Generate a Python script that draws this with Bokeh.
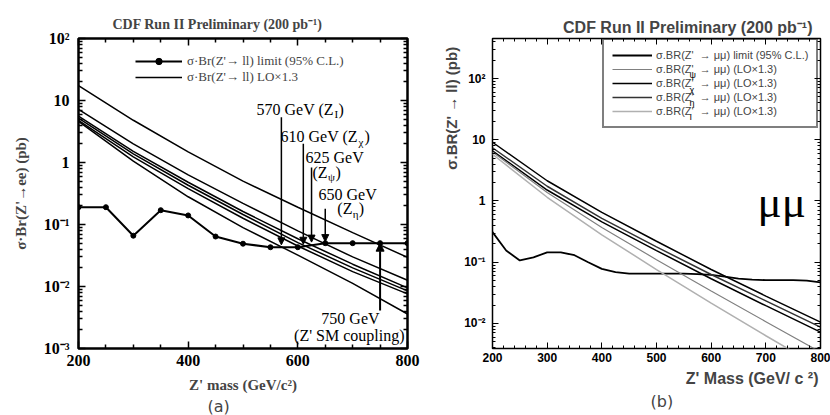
import math
from bokeh.plotting import figure
from bokeh.models import (Range1d, LogAxis, LinearAxis, FixedTicker, Label, Legend, LegendItem,
                          Arrow, NormalHead, ColumnDataSource, Title)
from bokeh.layouts import row
from bokeh.embed import file_html
from bokeh.resources import INLINE

SERIF = "Liberation Serif"
SANS = "Liberation Sans"

# ---------------- data: panel (a) ----------------
mass_a = [200, 300, 400, 500, 600, 700, 800]
sm_a = [17.4, 4.8, 1.48, 0.50, 0.19, 0.074, 0.0295]
zeta_a = [7.2, 2.0, 0.63, 0.219, 0.079, 0.030, 0.0126]
zpsi_a = [5.6, 1.51, 0.48, 0.162, 0.059, 0.0229, 0.0095]
zchi_a = [5.2, 1.38, 0.43, 0.145, 0.051, 0.020, 0.0085]
zsec_a = [4.8, 1.23, 0.38, 0.126, 0.045, 0.0174, 0.0076]
zi_a = [4.6, 1.05, 0.28, 0.089, 0.032, 0.0112, 0.0036]
limit_mass_a = [200, 250, 300, 350, 400, 450, 500, 550, 600, 650, 700, 750, 800]
limit_a = [0.19, 0.19, 0.066, 0.17, 0.14, 0.064, 0.049, 0.043, 0.043, 0.050, 0.050, 0.050, 0.050]
arrow_mass_a = [570, 610, 625, 650]
arrow_from_a = [5.35, 2.0, 0.83, 0.18]
arrow_to_a = [0.047, 0.048, 0.052, 0.053]
sm_arrow_mass = [750]
sm_arrow_from = [0.0041]
sm_arrow_to = [0.05]
x_ticks_a = [200, 400, 600, 800]
y_ticks_a = [1e-3, 1e-2, 1e-1, 1, 10, 100]
y_labels_a = ["10\u207b\u00b3", "10\u207b\u00b2", "10\u207b\u00b9", "1", "10", "10\u00b2"]

# ---------------- data: panel (b) ----------------
mass_b = [200, 300, 400, 500, 600, 700, 800]
zchi_b = [9.1, 2.14, 0.65, 0.22, 0.076, 0.028, 0.0105]
zeta_b = [7.4, 1.74, 0.52, 0.178, 0.063, 0.0234, 0.0087]
zsec_b = [6.6, 1.51, 0.457, 0.155, 0.0537, 0.0195, 0.0072]
zpsi_b = [6.3, 1.38, 0.37, 0.110, 0.034, 0.0107, 0.0034]
zi_b = [5.8, 1.15, 0.28, 0.076, 0.0214, 0.0063, 0.0019]
limit_mass_b = [200, 225, 250, 275, 300, 325, 350, 375, 400, 425, 450, 475, 500, 525,
                550, 575, 600, 625, 650, 675, 700, 725, 750, 775, 800]
limit_b = [0.31, 0.155, 0.107, 0.12, 0.145, 0.145, 0.13, 0.10, 0.078, 0.069, 0.065, 0.065,
           0.065, 0.065, 0.065, 0.064, 0.062, 0.058, 0.054, 0.052, 0.051, 0.051, 0.051, 0.050, 0.047]
x_ticks_b = [200, 300, 400, 500, 600, 700, 800]
y_ticks_b = [1e-2, 1e-1, 1, 10, 100]
y_labels_b = ["10\u207b\u00b2", "10\u207b\u00b9", "1", "10", "10\u00b2"]
legend_subs_b = ["\u03c8", "\u03c7", "\u03b7", "I"]


def label(p, x, y, text, size, font=SERIF, style="normal", align="left",
          baseline="middle", angle=0.0, xo=0, yo=0, color="black"):
    p.add_layout(Label(x=x, y=y, text=text, text_font=font, text_font_size=f"{size}px",
                       text_font_style=style, text_align=align, text_baseline=baseline,
                       angle=angle, x_offset=xo, y_offset=yo, text_color=color))


def style_axes(p, xt, xminor, yt, yminor, ylabels, font, fsize, maj, mnr, lw, xstand, ystand):
    xa = p.below[0]
    ya = p.left[0]
    xa.ticker = FixedTicker(ticks=xt, minor_ticks=xminor)
    ya.ticker = FixedTicker(ticks=yt, minor_ticks=yminor)
    ya.major_label_overrides = {t: l for t, l in zip(yt, ylabels)}
    for ax, st in ((xa, xstand), (ya, ystand)):
        ax.major_label_text_font = font
        ax.major_label_text_font_style = "bold"
        ax.major_label_text_font_size = f"{fsize}px"
        ax.major_label_text_color = "black"
        ax.major_tick_in = maj
        ax.major_tick_out = 0
        ax.minor_tick_in = mnr
        ax.minor_tick_out = 0
        ax.major_tick_line_width = lw
        ax.minor_tick_line_width = lw
        ax.major_tick_line_color = "black"
        ax.minor_tick_line_color = "black"
        ax.axis_line_color = None
        ax.major_label_standoff = st
    top = LinearAxis(ticker=FixedTicker(ticks=xt, minor_ticks=xminor))
    right = LogAxis(ticker=FixedTicker(ticks=yt, minor_ticks=yminor))
    for ax in (top, right):
        ax.major_label_text_font_size = "1px"
        ax.major_label_text_alpha = 0
        ax.major_label_standoff = 0
        ax.major_tick_in = maj
        ax.major_tick_out = 0
        ax.minor_tick_in = mnr
        ax.minor_tick_out = 0
        ax.major_tick_line_width = lw
        ax.minor_tick_line_width = lw
        ax.axis_line_color = None
    p.add_layout(top, "above")
    p.add_layout(right, "right")
    return xa, ya


# ======================= panel (a) =======================
pa = figure(width=428, height=415, x_range=Range1d(200, 800), y_range=Range1d(1e-3, 1e2),
            y_axis_type="log", output_backend="svg", toolbar_location=None,
            min_border_left=78, min_border_right=21, min_border_top=38, min_border_bottom=67)
pa.grid.visible = False
pa.outline_line_color = "black"
pa.outline_line_width = 2.5

yminor_a = [k * 10.0 ** e for e in range(-3, 2) for k in (2, 3, 4, 5, 6, 7, 8, 9)]
xminor_a = [250, 300, 350, 450, 500, 550, 650, 700, 750]
xa_a, ya_a = style_axes(pa, x_ticks_a, xminor_a, y_ticks_a, yminor_a, y_labels_a,
                        SERIF, 16, 7, 4, 1.5, 6, 9)

pa.add_layout(Title(text="CDF Run II Preliminary (200 pb\u207b\u00b9)", text_font=SERIF,
                    text_font_size="14px", text_font_style="bold", align="left",
                    offset=34, standoff=13), "above")
ya_a.axis_label = "\u03c3\u00b7Br(Z'\u2192ee) (pb)"
xa_a.axis_label = "Z' mass (GeV/c\u00b2)"
for ax, st in ((ya_a, 12), (xa_a, 8)):
    ax.axis_label_text_font = SERIF
    ax.axis_label_text_font_size = "15px"
    ax.axis_label_text_font_style = "bold"
    ax.axis_label_standoff = st
pa.add_layout(Title(text="(a)", text_font="DejaVu Sans", text_font_size="16px",
                    text_font_style="normal", align="left", offset=129, standoff=-2), "below")

theory_a = []
for s in (sm_a, zeta_a, zpsi_a, zchi_a, zsec_a, zi_a):
    theory_a.append(pa.line(mass_a, s, line_color="black", line_width=1.5))
r_lim_a = pa.line(limit_mass_a, limit_a, line_color="black", line_width=2)
r_limpt_a = pa.scatter(limit_mass_a, limit_a, size=5, color="black")

src_arr = ColumnDataSource(dict(x0=arrow_mass_a, y0=arrow_from_a, x1=arrow_mass_a, y1=arrow_to_a))
pa.add_layout(Arrow(source=src_arr, x_start="x0", y_start="y0", x_end="x1", y_end="y1",
                    line_width=1.5, line_color="black",
                    end=NormalHead(size=7, fill_color="black", line_color="black")))
src_sm = ColumnDataSource(dict(x0=sm_arrow_mass, y0=sm_arrow_from, x1=sm_arrow_mass, y1=sm_arrow_to))
pa.add_layout(Arrow(source=src_sm, x_start="x0", y_start="y0", x_end="x1", y_end="y1",
                    line_width=2, line_color="black",
                    end=NormalHead(size=8, fill_color="black", line_color="black")))

leg_a = Legend(items=[LegendItem(label="\u03c3\u00b7Br(Z'\u2192 ll) limit (95% C.L.)",
                                 renderers=[r_lim_a, r_limpt_a]),
                      LegendItem(label="\u03c3\u00b7Br(Z'\u2192 ll) LO\u00d71.3",
                                 renderers=[theory_a[0]])],
               location=(57, 263), padding=0, margin=0, spacing=0,
               glyph_width=47, glyph_height=16, label_height=16, label_standoff=5,
               label_text_font=SERIF, label_text_font_size="13px",
               border_line_alpha=0, background_fill_alpha=0)
pa.add_layout(leg_a)

# annotations (a)
label(pa, 524.6, 7.16, "570 GeV (Z", 16)
label(pa, 524.6, 7.16, "I", 11, xo=78, yo=-5)
label(pa, 524.6, 7.16, ")", 16, xo=82)
label(pa, 568.4, 2.62, "610 GeV (Z", 16)
label(pa, 568.4, 2.62, "\u03c7", 11, xo=78, yo=-5)
label(pa, 568.4, 2.62, ")", 16, xo=84)
label(pa, 614, 1.2, "625 GeV", 16)
label(pa, 626.7, 0.69, "(Z", 16)
label(pa, 626.7, 0.69, "\u03c8", 11, xo=15.5, yo=-5)
label(pa, 626.7, 0.69, ")", 16, xo=23)
label(pa, 637.7, 0.305, "650 GeV", 16)
label(pa, 672, 0.181, "(Z", 16)
label(pa, 672, 0.181, "\u03b7", 11, xo=15.5, yo=-5)
label(pa, 672, 0.181, ")", 16, xo=21.5)
label(pa, 696, 0.00305, "750 GeV", 16, align="center")
label(pa, 794.5, 0.00162, "(Z' SM coupling)", 16, align="right")

# ======================= panel (b) =======================
pb = figure(width=402, height=415, x_range=Range1d(200, 800), y_range=Range1d(3.9e-3, 450),
            y_axis_type="log", output_backend="svg", toolbar_location=None,
            min_border_left=64, min_border_right=10, min_border_top=38, min_border_bottom=67)
pb.grid.visible = False
pb.outline_line_color = "black"
pb.outline_line_width = 1.5
yminor_b = [k * 10.0 ** e for e in range(-3, 3) for k in (2, 3, 4, 5, 6, 7, 8, 9)
            if 3.9e-3 <= k * 10.0 ** e <= 450]
xminor_b = [m for m in range(200, 801, 20) if m % 100 != 0]
style_axes(pb, x_ticks_b, xminor_b, y_ticks_b, yminor_b, y_labels_b, SANS, 12, 6, 3, 1, 4, 7)

pb.add_layout(Title(text="CDF Run II Preliminary (200 pb\u207b\u00b9)", text_font=SANS,
                    text_font_size="16px", text_font_style="bold", align="right",
                    offset=8, standoff=5), "above")
pb.add_layout(Title(text="\u03c3.BR(Z'  \u2192  ll) (pb)", text_font=SANS,
                    text_font_size="15px", text_font_style="bold", align="right",
                    offset=0, standoff=3), "left")
pb.add_layout(Title(text="Z' Mass (GeV/ c \u00b2)", text_font=SANS,
                    text_font_size="16px", text_font_style="bold", align="right",
                    offset=2, standoff=6), "below")
pb.add_layout(Title(text="(b)", text_font="DejaVu Sans", text_font_size="16px",
                    text_font_style="normal", align="left", offset=158, standoff=0), "below")

r_lim_b = pb.line(limit_mass_b, limit_b, line_color="black", line_width=1.8)
r_chi_b = pb.line(mass_b, zchi_b, line_color="black", line_width=1.5)
r_eta_b = pb.line(mass_b, zeta_b, line_color="#333333", line_width=1.5)
r_sec_b = pb.line(mass_b, zsec_b, line_color="black", line_width=1.5)
r_psi_b = pb.line(mass_b, zpsi_b, line_color="#808080", line_width=1.2)
r_i_b = pb.line(mass_b, zi_b, line_color="#b0b0b0", line_width=1.5)

leg_b = Legend(items=[LegendItem(label="\u03c3.BR(Z'  \u2192 \u03bc\u03bc) limit (95% C.L.)", renderers=[r_lim_b]),
                      LegendItem(label="\u03c3.BR(Z'  \u2192 \u03bc\u03bc) (LO\u00d71.3)", renderers=[r_psi_b]),
                      LegendItem(label="\u03c3.BR(Z'  \u2192 \u03bc\u03bc) (LO\u00d71.3)", renderers=[r_chi_b]),
                      LegendItem(label="\u03c3.BR(Z'  \u2192 \u03bc\u03bc) (LO\u00d71.3)", renderers=[r_eta_b]),
                      LegendItem(label="\u03c3.BR(Z'  \u2192 \u03bc\u03bc) (LO\u00d71.3)", renderers=[r_i_b])],
               location=(110, 220), padding=8, margin=0, spacing=0,
               glyph_width=40, glyph_height=14, label_height=14, label_standoff=4,
               label_text_font=SANS, label_text_font_size="11px",
               border_line_color="black", border_line_width=2, background_fill_alpha=0)
pb.add_layout(leg_b)
# subscripts of the legend entries (drawn over the legend rows)
for sub, ysub in zip(legend_subs_b, [112, 66.1, 39.1, 23.1]):
    label(pb, 560.4, ysub, sub, 9, font=SANS)

label(pb, 684.8, 0.95, "\u03bc\u03bc", 45, baseline="alphabetic")

layout = row(pa, pb)
open("out.html", "w").write(file_html(layout, INLINE))
